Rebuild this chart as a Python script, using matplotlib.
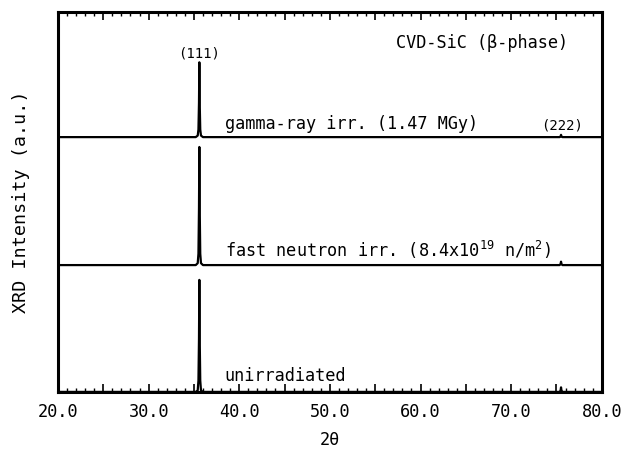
import matplotlib
matplotlib.use("Agg")
import matplotlib.pyplot as plt
from matplotlib.ticker import MultipleLocator

plt.rcParams["font.family"] = ["DejaVu Sans Mono"]
plt.rcParams["mathtext.fontset"] = "custom"
plt.rcParams["mathtext.rm"] = "DejaVu Sans Mono"
plt.rcParams["mathtext.it"] = "DejaVu Sans Mono"

# 2theta sample points (deg) shared by all traces
two_theta = [20.0, 35.2, 35.42, 35.5, 35.56, 35.6, 35.64, 35.7, 35.78, 36.0,
             75.1, 75.35, 75.45, 75.5, 75.55, 75.65, 75.9, 80.0]

# normalized intensities
gamma_ray = [0.0, 0.0, 0.004, 0.02, 0.09, 0.197, 0.09, 0.02, 0.004, 0.0,
             0.0, 0.0, 0.002, 0.006, 0.002, 0.0, 0.0, 0.0]
fast_neutron = [0.0, 0.0, 0.005, 0.03, 0.15, 0.311, 0.15, 0.03, 0.005, 0.0,
                0.0, 0.0, 0.003, 0.009, 0.003, 0.0, 0.0, 0.0]
unirradiated = [0.0, 0.0, 0.004, 0.03, 0.14, 0.295, 0.14, 0.03, 0.004, 0.0,
                0.0, 0.0, 0.004, 0.012, 0.004, 0.0, 0.0, 0.0]

traces = [unirradiated, fast_neutron, gamma_ray]
offsets = [0.0, 0.334, 0.671]
labels = ["unirradiated",
          r"fast neutron irr. (8.4x10$^{19}$ n/m$^{2}$)",
          "gamma-ray irr. (1.47 MGy)"]
label_dy = [0.028, 0.022, 0.022]

xticks = [20, 30, 40, 50, 60, 70, 80]

fig = plt.figure(figsize=(6.23, 4.51), dpi=100)
ax = fig.add_axes([0.093, 0.131, 0.873, 0.842])

for trace, off in zip(traces, offsets):
    ax.plot(two_theta, [v + off for v in trace], color="black", lw=1.6)

for lab, off, dy in zip(labels, offsets, label_dy):
    ax.text(38.4, off + dy, lab, fontsize=12.2, ha="left", va="baseline")

ax.text(35.6, 0.88, "(111)", fontsize=10, ha="center", va="baseline")
ax.text(75.6, 0.69, "(222)", fontsize=10, ha="center", va="baseline")
ax.text(57.3, 0.905, "CVD-SiC (β-phase)", fontsize=12.2, ha="left", va="baseline")

ax.set_xlim(20, 80)
ax.set_ylim(0, 1)
ax.xaxis.set_major_locator(MultipleLocator(5))
ax.xaxis.set_minor_locator(MultipleLocator(1))
ax.xaxis.set_major_formatter(
    plt.FuncFormatter(lambda v, p: f"{v:.1f}" if v in xticks else ""))
ax.tick_params(axis="x", which="major", direction="in", top=True, length=6, width=1.2,
               labelsize=12.2, pad=8)
ax.tick_params(axis="x", which="minor", direction="in", top=True, length=3, width=1.0)
ax.set_yticks([])
for s in ax.spines.values():
    s.set_linewidth(2.2)

ax.set_xlabel("2θ", fontsize=12.2, labelpad=7)
ax.set_ylabel("XRD Intensity (a.u.)", fontsize=13.2, labelpad=20)

fig.savefig("out.png", dpi=100)
